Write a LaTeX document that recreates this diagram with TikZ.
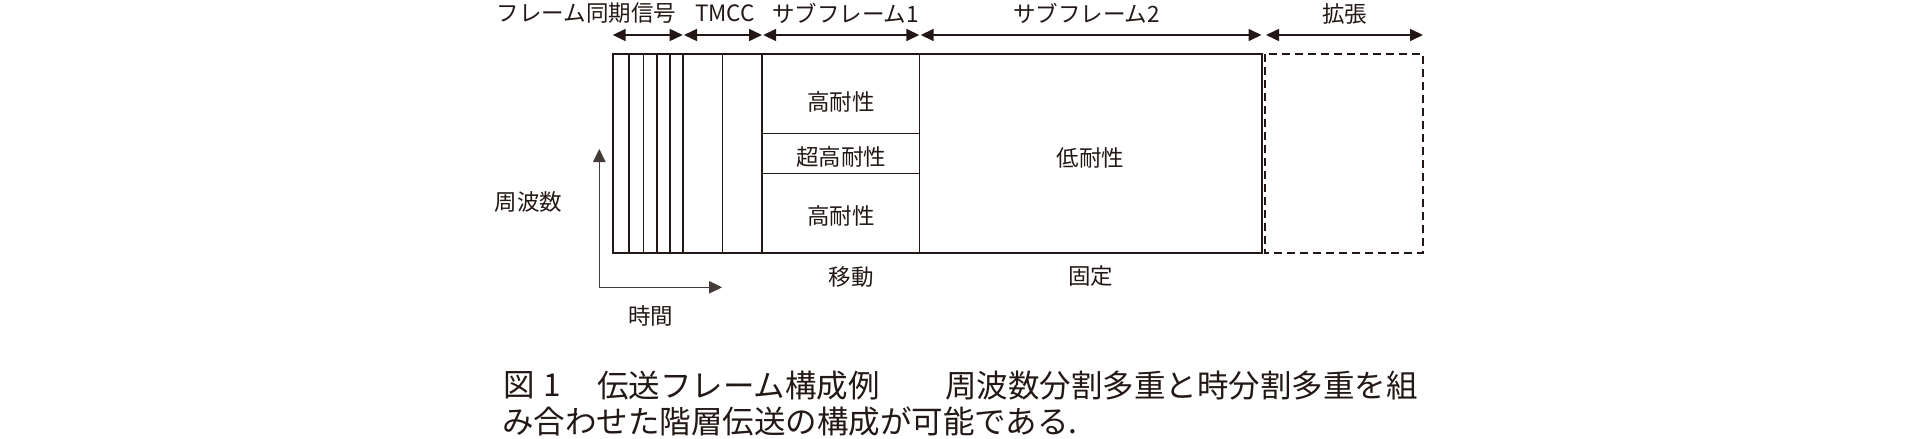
\documentclass[tikz,border=0pt]{standalone}
\usepackage{fontspec}
\setmainfont{Noto Sans CJK JP}
\newfontfamily\capfont{Noto Sans CJK JP}
\usetikzlibrary{arrows.meta}
\definecolor{ink}{HTML}{231815}
\begin{document}
\begin{tikzpicture}[x=1pt,y=-1pt,
  lbl/.style={inner sep=0pt,text=ink,font=\fontsize{22.5}{22.5}\selectfont},
  captext/.style={inner sep=0pt,text=ink,anchor=west,font=\capfont\fontsize{31.5}{31.5}\selectfont},
  frameline/.style={draw=ink,line width=1.6pt},
  dimarrow/.style={draw=ink,line width=1.6pt,{Triangle[length=13pt,width=12pt]}-{Triangle[length=13pt,width=12pt]}},
  axis/.style={draw=ink!85,line width=1.1pt,-{Triangle[length=13pt,width=12.5pt]}},
  dashbox/.style={draw=ink,line width=2.2pt,dash pattern=on 8pt off 5pt}]
\useasboundingbox (0,0) rectangle (1920,439);
% frame
\draw[frameline] (613,54) rectangle (1262,253);
\foreach \xx in {629,643.5,657,670,683,722.5,762,919.5}{
  \draw[frameline] (\xx,54) -- (\xx,253);
}
\draw[frameline] (762,133.5) -- (919.5,133.5);
\draw[frameline] (762,173.5) -- (919.5,173.5);
\draw[dashbox] (1265,54) rectangle (1423,253);
% top dimension arrows
\coordinate (a1) at (612.7,35);
\coordinate (a2) at (682.7,35);
\coordinate (b1) at (684,35);
\coordinate (b2) at (762,35);
\coordinate (c1) at (763.2,35);
\coordinate (c2) at (919.3,35);
\coordinate (d1) at (920.7,35);
\coordinate (d2) at (1261.5,35);
\coordinate (e1) at (1266,35);
\coordinate (e2) at (1423,35);
\draw[dimarrow] (a1) -- (a2);
\draw[dimarrow] (b1) -- (b2);
\draw[dimarrow] (c1) -- (c2);
\draw[dimarrow] (d1) -- (d2);
\draw[dimarrow] (e1) -- (e2);
% top labels
\node[lbl] (sync) at (586.5,13.5) {フレーム同期信号};
\node[lbl] (tmcc) at (725,13.5) {TMCC};
\node[lbl] (sf1) at (845.5,13.5) {サブフレーム1};
\node[lbl] (sf2) at (1086.5,13.5) {サブフレーム2};
\node[lbl] (ext) at (1344.5,13.5) {拡張};
% cell labels
\node[lbl] (h1) at (841,102) {高耐性};
\node[lbl] (uh) at (841,157) {超高耐性};
\node[lbl] (h2) at (841,215.5) {高耐性};
\node[lbl] (low) at (1090.5,157.5) {低耐性};
\node[lbl] (mob) at (851,277.5) {移動};
\node[lbl] (fix) at (1090.5,276.5) {固定};
% axes
\coordinate (org) at (599.3,287.3);
\coordinate (ftip) at (599.3,149);
\coordinate (ttip) at (722,287.3);
\draw[axis] (org) -- (ftip);
\draw[axis] (org) -- (ttip);
\node[lbl] (freq) at (528.5,202) {周波数};
\node[lbl] (time) at (650.5,316) {時間};
% caption
\node[captext] (cap1a) at (503,385.5) {図\hspace{9pt}1};
\node[captext] (cap1b) at (597,385.5) {伝送フレーム構成例};
\node[captext] (cap1c) at (945,385.5) {周波数分割多重と時分割多重を組};
\node[captext] (cap2) at (502,421.5) {み合わせた階層伝送の構成が可能である.};
\end{tikzpicture}
\end{document}
